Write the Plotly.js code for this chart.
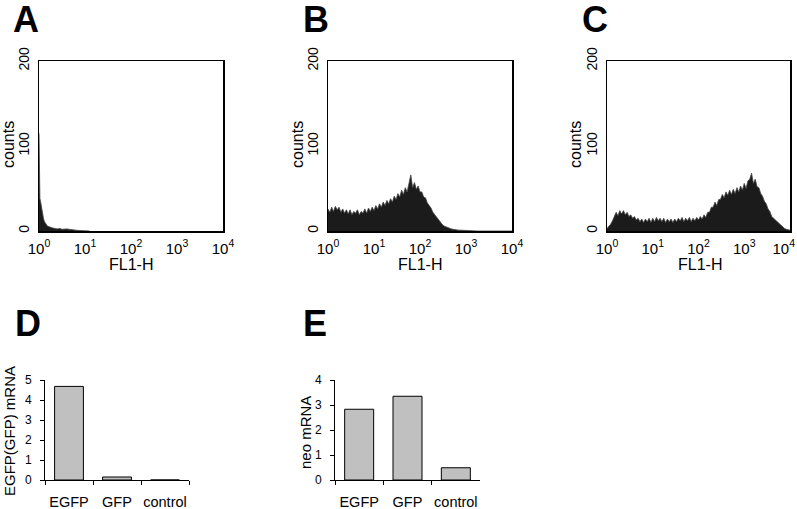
<!DOCTYPE html>
<html><head><meta charset="utf-8">
<script src="https://cdn.plot.ly/plotly-3.0.1.min.js"></script>
<style>html,body{margin:0;padding:0;background:#fff}#chart{width:797px;height:509px}</style>
</head><body><div id="chart"></div>
<script>
// ---------- data ----------
const decadeTicks = [0, 1, 2, 3, 4];
const decadeLabels = ['10<sup>0</sup>', '10<sup>1</sup>', '10<sup>2</sup>', '10<sup>3</sup>', '10<sup>4</sup>'];
const countTicks = [0, 100, 200];

// panel A: log10(FL1-H) positions and counts
const logA = [0, 0.005, 0.01, 0.02, 0.03, 0.04, 0.05, 0.06, 0.08, 0.10, 0.12, 0.15, 0.18, 0.22, 0.26, 0.30, 0.35, 0.40, 0.45, 0.50, 0.60, 0.70, 0.80, 0.90, 1.00, 1.10];
const countsA = [115, 45, 40, 38, 36, 32, 28, 24, 18, 14, 11, 8, 6, 5, 4, 3.5, 3, 2.5, 3, 2, 2.5, 1.5, 1, 0.5, 0.3, 0];

// panels B, C: log10(FL1-H) channel positions
const logBC = [0.00,0.04,0.08,0.12,0.16,0.20,0.24,0.28,0.32,0.36,0.40,0.44,0.48,0.52,0.56,0.60,0.64,0.68,0.72,0.76,
  0.80,0.84,0.88,0.92,0.96,1.00,1.04,1.08,1.12,1.16,1.20,1.24,1.28,1.32,1.36,1.40,1.44,1.48,1.52,1.56,
  1.60,1.64,1.68,1.72,1.76,1.80,1.84,1.88,1.92,1.96,2.00,2.04,2.08,2.12,2.16,2.20,2.24,2.28,2.32,2.36,
  2.40,2.44,2.48,2.52,2.56,2.60,2.64,2.68,2.72,2.76,2.80,2.84,2.88,2.92,2.96,3.00,3.04,3.08,3.12,3.16,
  3.20,3.24,3.28,3.32,3.36,3.40,3.44,3.48,3.52,3.56,3.60,3.64,3.68,3.72,3.76,3.80,3.84,3.88,3.92,3.96,4.00];
const countsB = [26,22,28,23,29,25,28,22,26,21,25,20,25,19,23,21,25,19,23,21,
  26,21,27,23,28,24,30,26,32,28,34,30,36,32,38,34,41,37,44,40,
  48,43,51,46,56,66,51,57,49,53,46,46,40,39,33,30,27,22,19,16,
  13,10,8,6,5,4,3,2.5,2,1.5,1.5,1,1,0.8,0.6,0.5,0.3,0,0,0,
  0,0,0,0,0,0,0,0,0,0,0,0,0,0,0,0,0,0,0,0,0];
const countsC = [3,5,8,12,17,22,18,24,20,24,19,22,17,19,15,17,13,15,11,14,
  10,14,11,15,10,15,11,16,12,15,11,15,10,14,11,14,10,14,11,15,
  12,16,11,15,12,16,11,15,12,16,13,17,14,19,16,22,22,28,28,34,
  30,37,37,43,39,46,42,48,43,49,44,51,46,53,48,56,50,59,61,68,
  56,61,52,51,44,41,35,32,26,23,17,15,12,10,8,6,4,3,2,1.5,1];

const categories = ['EGFP', 'GFP', 'control'];
const egfpMRNA = [4.68, 0.15, 0];
const neoMRNA = [2.83, 3.35, 0.49];

// ---------- layout helpers ----------
const W = 797, H = 509;
const px = v => v / W;
const py = v => 1 - v / H;
const FONT = 'Liberation Sans, Arial, sans-serif';

function histTrace(x, y, xa, ya) {
  return {x: x, y: y, xaxis: xa, yaxis: ya, type: 'scatter', mode: 'lines',
    line: {color: '#444', width: 0.8}, fill: 'tozeroy', fillcolor: '#1b1b1b',
    hoverinfo: 'skip', showlegend: false};
}
function barTrace(y, xa, ya) {
  return {x: categories, y: y, xaxis: xa, yaxis: ya, type: 'bar', width: 0.6,
    marker: {color: '#c0c0c0', line: {color: '#000', width: 1}},
    hoverinfo: 'skip', showlegend: false};
}

const data = [
  histTrace(logA, countsA, 'x', 'y'),
  histTrace(logBC, countsB, 'x2', 'y2'),
  histTrace(logBC, countsC, 'x3', 'y3'),
  barTrace(egfpMRNA, 'x4', 'y4'),
  barTrace(neoMRNA, 'x5', 'y5')
];

function histX(l, r, anchor, labels) {
  return {domain: [px(l), px(r)], anchor: anchor, range: [0, 4], tickmode: 'array',
    tickvals: decadeTicks, ticktext: labels, ticks: '', showline: true, mirror: true,
    linecolor: '#000', linewidth: 1.5, showgrid: false, zeroline: false,
    tickfont: {size: 15, color: '#000', family: FONT}, ticklabelstandoff: 3,
    ticklabeloverflow: 'allow', tickangle: 0, fixedrange: true};
}
function histY(anchor) {
  return {domain: [py(231), py(61)], anchor: anchor, range: [0, 200], tickmode: 'array',
    tickvals: countTicks, tickangle: -90, ticks: '', showline: true, mirror: true,
    linecolor: '#000', linewidth: 1.5, showgrid: false, zeroline: false,
    tickfont: {size: 14, color: '#000', family: FONT}, ticklabelstandoff: 3,
    ticklabeloverflow: 'allow', fixedrange: true};
}
function barX(l, r, anchor) {
  return {domain: [px(l), px(r)], anchor: anchor, type: 'category', showline: true,
    linecolor: '#000', linewidth: 1, ticks: 'outside', tickson: 'boundaries', ticklen: 4,
    tickcolor: '#000', tickwidth: 1, showgrid: false, zeroline: false, tickangle: 0,
    tickfont: {size: 14.5, color: '#000', family: FONT}, ticklabelstandoff: 9,
    ticklabeloverflow: 'allow', fixedrange: true};
}
function barY(max, anchor) {
  return {domain: [py(480), py(380)], anchor: anchor, range: [0, max], dtick: 1,
    showline: true, linecolor: '#000', linewidth: 1, ticks: 'outside', ticklen: 4,
    tickcolor: '#000', tickwidth: 1, showgrid: false, zeroline: false,
    tickfont: {size: 12, color: '#000', family: FONT}, ticklabelstandoff: 6, fixedrange: true};
}

function letter(t, x, y) {
  return {text: '<b>' + t + '</b>', xref: 'paper', yref: 'paper', x: px(x), y: py(y),
    xanchor: 'left', yanchor: 'top', showarrow: false, font: {size: 36, color: '#000', family: FONT}};
}
function vtitle(t, x, y, size) {
  return {text: t, xref: 'paper', yref: 'paper', x: px(x), y: py(y), xanchor: 'center',
    yanchor: 'middle', textangle: -90, showarrow: false, font: {size: size, color: '#000', family: FONT}};
}
function htitle(t, x, y, size) {
  return {text: t, xref: 'paper', yref: 'paper', x: px(x), y: py(y), xanchor: 'center',
    yanchor: 'middle', showarrow: false, font: {size: size, color: '#000', family: FONT}};
}

// last decade label of panel C sits against the right edge: pad it leftwards
const labelsC = decadeLabels.map((t, i) => i === decadeLabels.length - 1 ? t + '\u00a0\u00a0\u00a0' : t);

const layout = {
  width: W, height: H, margin: {l: 0, r: 0, t: 0, b: 0},
  paper_bgcolor: '#fff', plot_bgcolor: '#fff',
  font: {family: FONT, color: '#000'},
  xaxis: histX(39, 223, 'y', decadeLabels), yaxis: histY('x'),
  xaxis2: histX(328, 512, 'y2', decadeLabels), yaxis2: histY('x2'),
  xaxis3: histX(607, 790, 'y3', labelsC), yaxis3: histY('x3'),
  xaxis4: barX(45, 189, 'y4'), yaxis4: barY(5, 'x4'),
  xaxis5: barX(335, 480, 'y5'), yaxis5: barY(4, 'x5'),
  annotations: [
    letter('A', 11, -3), letter('B', 301, -3), letter('C', 580, -3),
    letter('D', 13, 301), letter('E', 301, 301),
    vtitle('counts', 8, 145, 16), vtitle('counts', 297, 145, 16), vtitle('counts', 575, 145, 16),
    htitle('FL1-H', 131, 264, 16), htitle('FL1-H', 420, 264, 16), htitle('FL1-H', 700, 264, 16),
    vtitle('EGFP(GFP) mRNA', 9, 431, 15), vtitle('neo mRNA', 305, 433, 15)
  ]
};

Plotly.newPlot('chart', data, layout, {staticPlot: true, displayModeBar: false});
</script>
</body></html>
